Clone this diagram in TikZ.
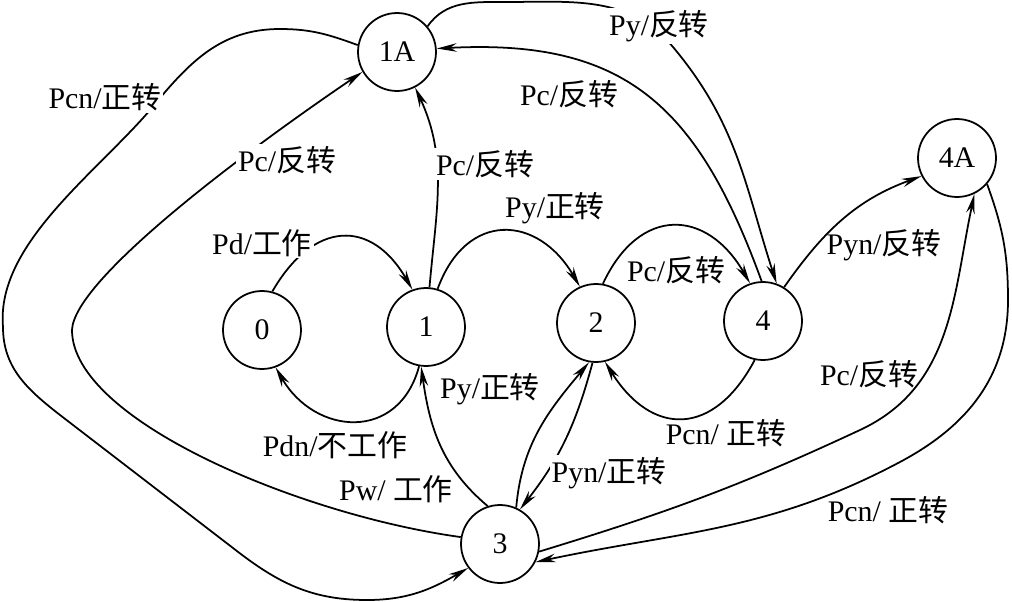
\documentclass[tikz,border=0pt]{standalone}
\usepackage{fontspec}
\setmainfont{Liberation Serif}
\newfontfamily\cjk{Noto Sans CJK SC}
\usepackage{tikz}
\usetikzlibrary{arrows.meta,positioning}
\newcommand{\zh}[1]{{\cjk #1}}

\begin{document}
\begin{tikzpicture}[x=0.02cm,y=0.02cm,line width=1pt,
  state/.style={draw,circle,minimum size=1.56cm,inner sep=0pt,font=\fontsize{17}{20}\selectfont},
  lbl/.style={font=\fontsize{17}{20}\selectfont,inner sep=1pt},
  cut/.style={lbl,fill=white},
  >={Stealth[length=4mm,width=1.7mm,inset=1.3mm]}]
\useasboundingbox (0,0) rectangle (1012,-602);

%states
\node[state] (n0) at (262,-330) {0};
\node[state] (n1) at (426,-327) {1};
\node[state] (n2) at (596,-323) {2};
\node[state] (n4) at (763,-321) {4};
\node[state] (n1A) at (397,-52) {1A};
\node[state] (n4A) at (957,-158) {4A};
\node[state] (n3) at (500,-544) {3};

%0 <-> 1
\draw[->] (n0.75) to[out=60,in=120,looseness=1.5] (n1.110);
\draw[->] (n1.-100) to[out=-105,in=-60,looseness=1.4] (n0.-70);
\node[cut] at (262,-243) {Pd/\zh{工作}};
\node[lbl] at (335,-445) {Pdn/\zh{不工作}};

%1 -> 2 -> 4 -> 2
\draw[->] (n1.73) to[out=70,in=120,looseness=1.5] (n2.114);
\draw[->] (n2.80) to[out=65,in=120,looseness=1.5] (n4.109);
\draw[->] (n4.-102) to[out=-118,in=-58,looseness=1.5] (n2.-77);
\node[lbl] at (555,-208) {Py/\zh{正转}};
\node[lbl] at (676,-270) {Pc/\zh{反转}};
\node[lbl] at (726,-433) {Pcn/ \zh{正转}};

%1A
\draw[->] (n1.85) to[out=85,in=-65] (n1A.-63);
\node[cut] at (485,-164) {Pc/\zh{反转}};
\draw[->] (n3.170) .. controls (300,-515) and (72,-420) .. (72,-330)
  .. controls (74,-280) and (240,-155) .. (n1A.210);
\node[cut] at (287,-160) {Pc/\zh{反转}};
\draw[->] (n1A.170) to[out=160,in=0] (280,-29) to[out=180,in=50] (160,-98)
  to[out=-128,in=95,looseness=0.8] (3,-327) to[out=-90,in=142] (60,-415)
  -- (233,-548) to[out=-38,in=180] (367,-600) to[out=0,in=-150] (n3.-143);
\node[cut] at (105,-97) {Pcn/\zh{正转}};
\draw[->] (n4.92) to[out=110,in=3,looseness=1.2] (n1A.5);
\node[lbl] at (569,-94) {Pc/\zh{反转}};
\draw[->] (n1A.40) to[out=55,in=180] (505,-2) to[out=0,in=130] (673,-47)
  to[out=-50,in=108] (n4.70);
\node[cut] at (659,-26) {Py/\zh{反转}};

%4A
\draw[->] (n4.58) to[out=55,in=-160] (n4A.-153);
\node[lbl] at (884,-245) {Pyn/\zh{反转}};
\draw[->] (n3.-11) to[out=17,in=-155] (860,-430) to[out=25,in=-102] (n4A.-64);
\node[lbl] at (869,-374) {Pc/\zh{反转}};
\draw[->] (n4A.-41) to[out=-70,in=90] (1008,-300) to[out=-90,in=28] (900,-462)
  to[out=-152,in=12] (n3.-27);
\node[lbl] at (888,-510) {Pcn/ \zh{正转}};

%3
\draw[->] (n3.108) to[out=140,in=-82] (n1.-97);
\node[lbl] at (396,-489) {Pw/ \zh{工作}};
\draw[->] (n3.66) to[out=85,in=-130] (n2.-100);
\node[lbl] at (490,-389) {Py/\zh{正转}};
\draw[->] (n2.-95) to[out=-105,in=52] (n3.60);
\node[cut] at (609,-473) {Pyn/\zh{正转}};

\end{tikzpicture}
\end{document}
